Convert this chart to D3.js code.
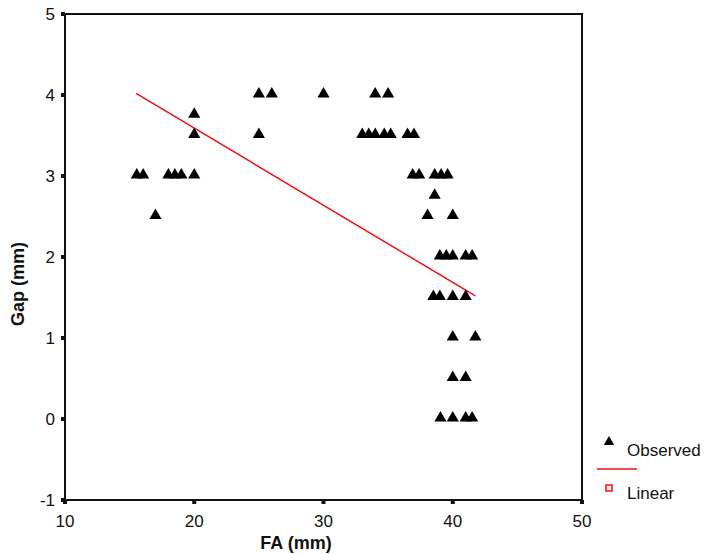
<!DOCTYPE html>
<html lang="en">
<head>
<meta charset="utf-8">
<title>Gap vs FA</title>
<script src="https://cdnjs.cloudflare.com/ajax/libs/d3/7.8.5/d3.min.js"></script>
<style>
  body { margin: 0; background: #fff; }
  text { font-family: "Liberation Sans", Arial, sans-serif; fill: #111; }
</style>
</head>
<body>
<div id="chart"></div>
<script>
// observed points
var fa  = [15.55, 16.05, 18.0, 18.5, 19.0, 20.0, 17.0, 20.0, 20.0, 25.0,
           25.0, 26.0, 30.0, 34.0, 35.0,
           33.0, 33.5, 34.0, 34.7, 35.2, 36.5, 37.0,
           36.9, 37.4, 38.6, 39.1, 39.6, 38.6, 38.05, 40.0,
           39.0, 39.5, 40.0, 41.0, 41.5,
           38.5, 39.0, 40.0, 41.0,
           40.0, 41.75, 40.0, 41.0,
           39.05, 40.0, 41.0, 41.5];
var gap = [3, 3, 3, 3, 3, 3, 2.5, 3.75, 3.5, 3.5,
           4, 4, 4, 4, 4,
           3.5, 3.5, 3.5, 3.5, 3.5, 3.5, 3.5,
           3, 3, 3, 3, 3, 2.75, 2.5, 2.5,
           2, 2, 2, 2, 2,
           1.5, 1.5, 1.5, 1.5,
           1, 1, 0.5, 0.5,
           0, 0, 0, 0];

// linear fit ends
var fitFa  = [15.5, 41.75];
var fitGap = [4.02, 1.52];

var xTicks = [10, 20, 30, 40, 50];
var yTicks = [-1, 0, 1, 2, 3, 4, 5];

var width = 710, height = 554;
var plotL = 65, plotR = 582, plotT = 14, plotB = 500;

var svg = d3.select("#chart").append("svg")
  .attr("width", width)
  .attr("height", height);

var x = d3.scaleLinear().domain([10, 50]).range([plotL, plotR]);
var y = d3.scaleLinear().domain([-1, 5]).range([plotB, plotT]);

// frame
svg.append("rect")
  .attr("x", plotL).attr("y", plotT)
  .attr("width", plotR - plotL).attr("height", plotB - plotT)
  .attr("fill", "none").attr("stroke", "#111").attr("stroke-width", 2);

// y ticks
svg.selectAll(".ytick").data(yTicks).enter().append("rect")
  .attr("x", plotL - 4).attr("y", function(d) { return y(d) - 2; })
  .attr("width", 4).attr("height", 4).attr("fill", "#111");
svg.selectAll(".ylab").data(yTicks).enter().append("text")
  .attr("x", 55).attr("y", function(d) { return y(d) + 6; })
  .attr("text-anchor", "end").attr("font-size", 17)
  .text(function(d) { return d; });

// x ticks
svg.selectAll(".xtick").data(xTicks).enter().append("rect")
  .attr("x", function(d) { return x(d) - 2; }).attr("y", plotB)
  .attr("width", 4).attr("height", 4).attr("fill", "#111");
svg.selectAll(".xlab").data(xTicks).enter().append("text")
  .attr("x", function(d) { return x(d); }).attr("y", 527)
  .attr("text-anchor", "middle").attr("font-size", 17)
  .text(function(d) { return d; });

// axis titles
svg.append("text")
  .attr("x", 296).attr("y", 549)
  .attr("text-anchor", "middle").attr("font-size", 18).attr("font-weight", "bold")
  .text("FA (mm)");
svg.append("text")
  .attr("transform", "translate(24,284) rotate(-90)")
  .attr("text-anchor", "middle").attr("font-size", 18).attr("font-weight", "bold")
  .text("Gap (mm)");

// fit line
var fit = fitFa.map(function(d, i) { return [d, fitGap[i]]; });
svg.append("path")
  .datum(fit)
  .attr("d", d3.line().x(function(d) { return x(d[0]); }).y(function(d) { return y(d[1]); }))
  .attr("fill", "none").attr("stroke", "#f01010").attr("stroke-width", 1.5);

// points
var tri = d3.symbol().type(d3.symbolTriangle).size(64);
var pts = fa.map(function(d, i) { return [d, gap[i]]; });
svg.selectAll(".pt").data(pts).enter().append("path")
  .attr("d", tri)
  .attr("transform", function(d) { return "translate(" + x(d[0]) + "," + (y(d[1]) - 1) + ")"; })
  .attr("fill", "#000");

// legend
svg.append("path").attr("d", d3.symbol().type(d3.symbolTriangle).size(48))
  .attr("transform", "translate(609,442)").attr("fill", "#000");
svg.append("text").attr("x", 627).attr("y", 456).attr("font-size", 17).text("Observed");
svg.append("line").attr("x1", 597).attr("x2", 637).attr("y1", 469).attr("y2", 469)
  .attr("stroke", "#f01010").attr("stroke-width", 1.5);
svg.append("rect").attr("x", 606).attr("y", 485).attr("width", 6).attr("height", 6)
  .attr("fill", "#fff").attr("stroke", "#f01010").attr("stroke-width", 1.5);
svg.append("text").attr("x", 627).attr("y", 499).attr("font-size", 17).text("Linear");
</script>
</body>
</html>
